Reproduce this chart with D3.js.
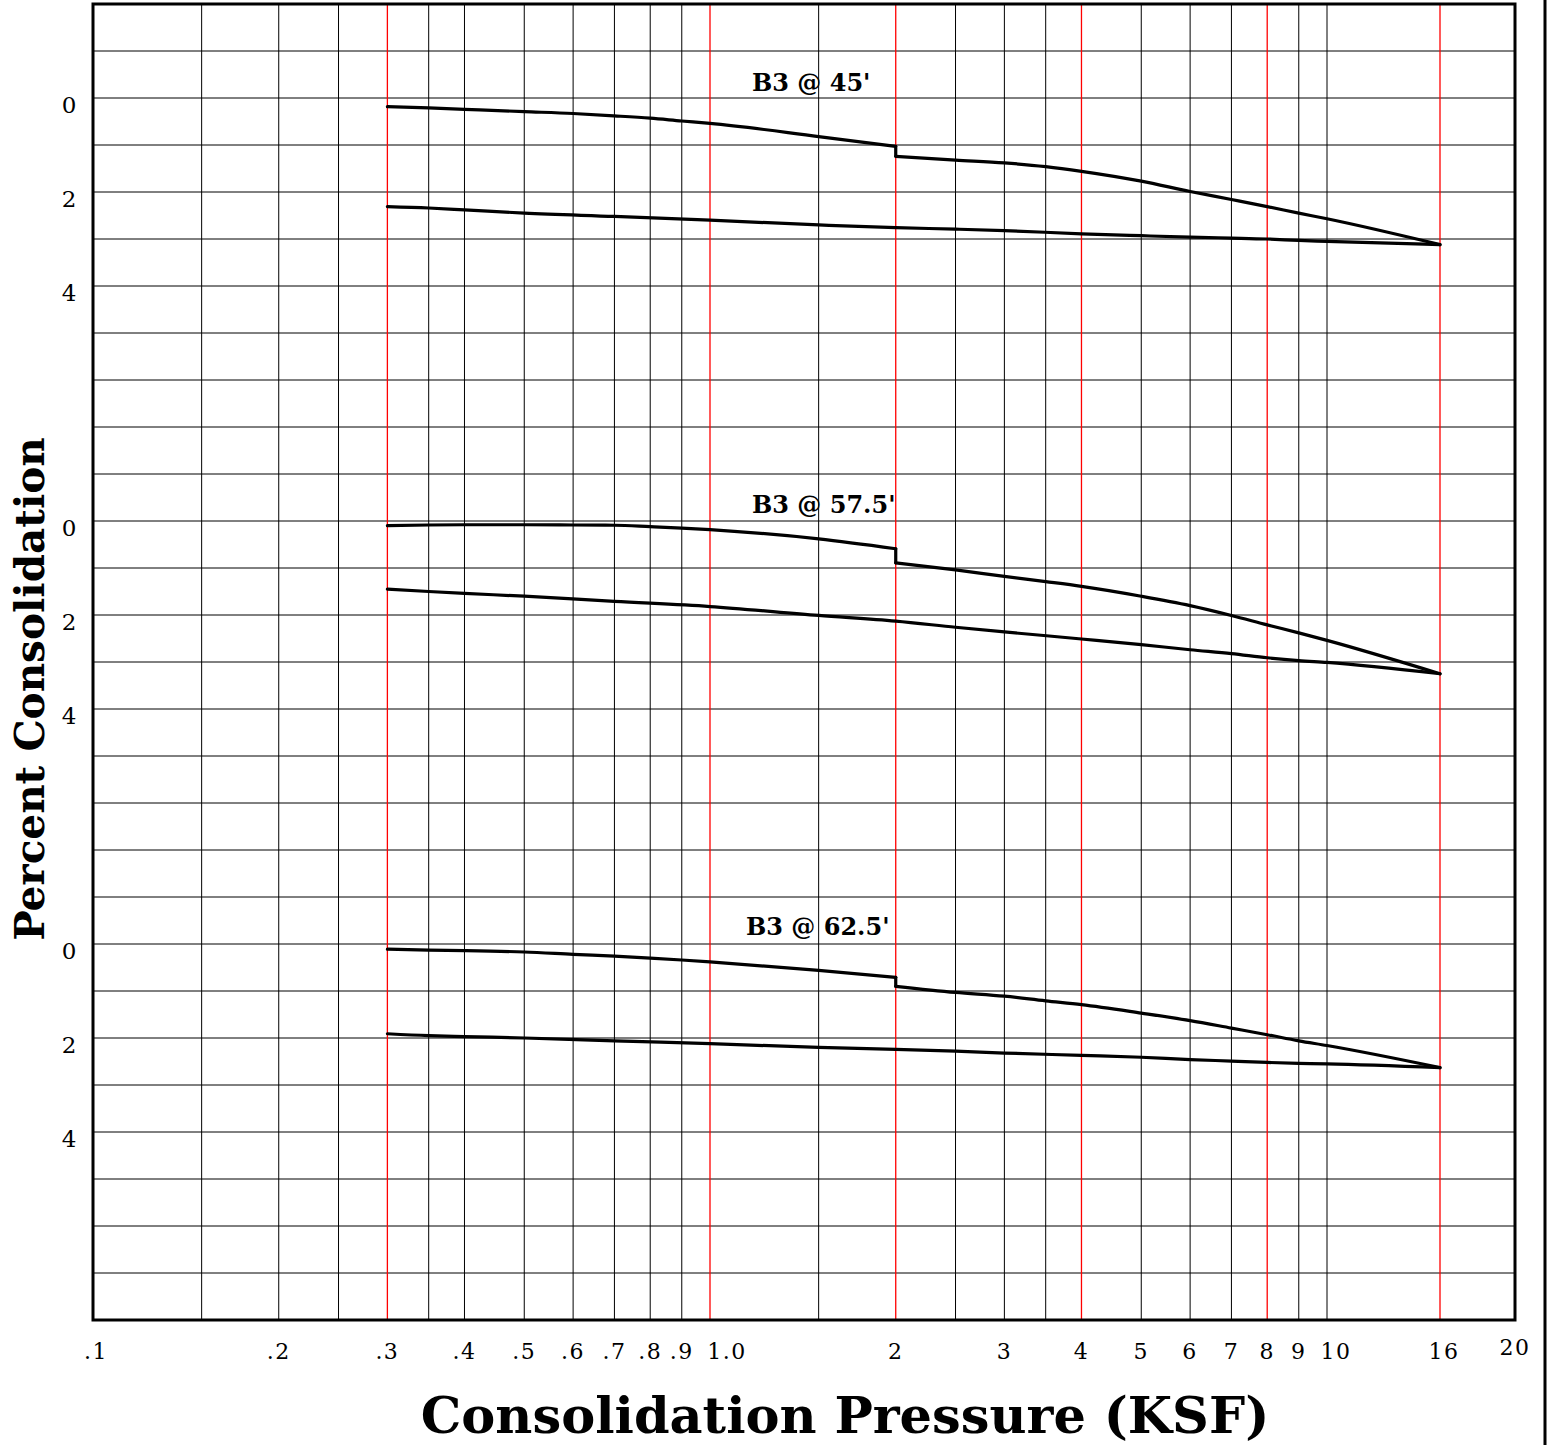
<!DOCTYPE html>
<html>
<head>
<meta charset="utf-8">
<title>Consolidation Test - B3</title>
<script src="https://cdn.jsdelivr.net/npm/d3@7"></script>
<style>
    body { margin: 0; background: #fff; }
    svg text { font-family: "DejaVu Serif", serif; fill: #000; }
</style>
</head>
<body>
<div id="chart-area"></div>
<script>
// pressures (KSF) at which the curves were read off the sheet
// loading: up to 2 ksf, then (after the inundation step at 2) on to 16
const loadPressureDry = [0.3, 0.35, 0.4, 0.5, 0.6, 0.7, 0.8, 0.9, 1.0, 1.5, 2];
const loadPressureWet = [2, 2.5, 3, 3.5, 4, 5, 6, 7, 8, 9, 10, 16];
const unloadPressure  = [16, 10, 9, 8, 7, 6, 5, 4, 3, 2.5, 2, 1.5, 1.0, 0.7, 0.5, 0.4, 0.35, 0.3];

// percent consolidation, read per sample
const b3at45Dry     = [0.185, 0.21, 0.24, 0.29, 0.33, 0.38, 0.43, 0.49, 0.54, 0.82, 1.03];
const b3at45Wet     = [1.24, 1.32, 1.38, 1.46, 1.56, 1.77, 1.99, 2.16, 2.31, 2.45, 2.57, 3.12];
const b3at45Unload  = [3.12, 3.05, 3.03, 3.00, 2.98, 2.96, 2.93, 2.89, 2.82, 2.79, 2.76, 2.70, 2.60, 2.52, 2.45, 2.38, 2.34, 2.31];

const b3at575Dry    = [0.10, 0.085, 0.08, 0.08, 0.085, 0.09, 0.12, 0.15, 0.185, 0.38, 0.59];
const b3at575Wet    = [0.89, 1.04, 1.18, 1.29, 1.39, 1.60, 1.80, 2.01, 2.21, 2.38, 2.54, 3.25];
const b3at575Unload = [3.25, 3.01, 2.97, 2.91, 2.82, 2.74, 2.63, 2.51, 2.36, 2.26, 2.13, 2.01, 1.82, 1.71, 1.60, 1.54, 1.50, 1.45];

const b3at625Dry    = [0.11, 0.13, 0.14, 0.17, 0.22, 0.26, 0.30, 0.34, 0.38, 0.56, 0.71];
const b3at625Wet    = [0.90, 1.03, 1.11, 1.21, 1.29, 1.47, 1.63, 1.79, 1.93, 2.06, 2.16, 2.63];
const b3at625Unload = [2.63, 2.55, 2.54, 2.52, 2.49, 2.46, 2.41, 2.37, 2.32, 2.28, 2.24, 2.20, 2.12, 2.06, 2.00, 1.97, 1.95, 1.91];

const panelLabels = ["B3 @ 45'", "B3 @ 57.5'", "B3 @ 62.5'"];

// axis ticks, grid lines and labels
const xTickValues = [0.1, 0.2, 0.3, 0.4, 0.5, 0.6, 0.7, 0.8, 0.9, 1, 2, 3, 4, 5, 6, 7, 8, 9, 10, 16, 20];
const xTickLabels = [".1", ".2", ".3", ".4", ".5", ".6", ".7", ".8", ".9", "1.0", "2", "3", "4", "5", "6", "7", "8", "9", "10", "16", "20"];
const xGridValues = [0.15, 0.2, 0.25, 0.35, 0.4, 0.5, 0.6, 0.7, 0.8, 0.9, 1.5, 2.5, 3, 3.5, 5, 6, 7, 9, 10];
const xRedValues  = [0.3, 1, 2, 4, 8, 16];
const yTickValues = [0, 2, 4];
const yTickLabels = ["0", "2", "4"];

;(function () {
    'use strict';

    const WIDTH = 1548, HEIGHT = 1445;
    const LEFT = 93, RIGHT = 1515, TOP = 4, BOTTOM = 1320;
    const ROWS = 28;                 // horizontal grid cells, 1% each
    const panelZero = [2, 11, 20];   // grid row holding 0% for each panel

    const samples = [
        {dry: b3at45Dry,  wet: b3at45Wet,  unload: b3at45Unload},
        {dry: b3at575Dry, wet: b3at575Wet, unload: b3at575Unload},
        {dry: b3at625Dry, wet: b3at625Wet, unload: b3at625Unload}
    ];

    // small nudges the sheet uses for crowded labels
    const labelNudge = {"1.0": 17, "10": 9, "16": 4, ".1": 3};
    const panelLabelX = [752, 752, 746];

    const svg = d3.select("#chart-area").append("svg")
        .attr("width", WIDTH)
        .attr("height", HEIGHT);

    // log pressure axis; the 16 line sits where the sheet drew it
    const x = d3.scaleLog()
        .domain([0.1, 10, 16, 20])
        .range([LEFT, 1327, 1440, RIGHT]);

    const row = d3.scaleLinear()
        .domain([0, ROWS])
        .range([TOP, BOTTOM]);

    const grid = svg.append("g").attr("class", "grid");

    // horizontal lines
    grid.selectAll("line.h")
        .data(d3.range(1, ROWS))
        .join("line")
        .attr("class", "h")
        .attr("x1", LEFT).attr("x2", RIGHT)
        .attr("y1", d => row(d)).attr("y2", d => row(d))
        .attr("stroke", "#000")
        .attr("stroke-width", 1);

    // vertical lines
    grid.selectAll("line.v")
        .data(xGridValues)
        .join("line")
        .attr("class", "v")
        .attr("x1", d => x(d)).attr("x2", d => x(d))
        .attr("y1", TOP).attr("y2", BOTTOM)
        .attr("stroke", "#000")
        .attr("stroke-width", 1);

    grid.selectAll("line.red")
        .data(xRedValues)
        .join("line")
        .attr("class", "red")
        .attr("x1", d => x(d)).attr("x2", d => x(d))
        .attr("y1", TOP).attr("y2", BOTTOM)
        .attr("stroke", "#f00")
        .attr("stroke-width", 1.3);

    // frame
    svg.append("rect")
        .attr("x", LEFT).attr("y", TOP)
        .attr("width", RIGHT - LEFT).attr("height", BOTTOM - TOP)
        .attr("fill", "none")
        .attr("stroke", "#000")
        .attr("stroke-width", 3);

    // bar on the far right edge of the sheet
    svg.append("line")
        .attr("x1", 1545).attr("x2", 1545)
        .attr("y1", 0).attr("y2", HEIGHT)
        .attr("stroke", "#000")
        .attr("stroke-width", 3);

    // curves
    samples.forEach((s, i) => {
        const zero = panelZero[i];

        const line = d3.line()
            .curve(d3.curveMonotoneX)
            .x(d => x(d.p))
            .y(d => row(zero + d.v));

        const dry = loadPressureDry.map((p, j) => ({p: p, v: s.dry[j]}));
        const wet = loadPressureWet.map((p, j) => ({p: p, v: s.wet[j]}));
        const unload = unloadPressure.map((p, j) => ({p: p, v: s.unload[j]})).reverse();
        const step = [dry[dry.length - 1], wet[0]];

        const curves = svg.append("g").attr("class", "sample");
        [dry, wet, unload].forEach(seg => {
            curves.append("path")
                .attr("fill", "none")
                .attr("stroke", "#000")
                .attr("stroke-width", 3.2)
                .attr("stroke-linecap", "round")
                .attr("d", line(seg));
        });
        curves.append("path")
            .attr("fill", "none")
            .attr("stroke", "#000")
            .attr("stroke-width", 3.2)
            .attr("stroke-linecap", "round")
            .attr("d", d3.line().x(d => x(d.p)).y(d => row(zero + d.v))(step));

        svg.append("text")
            .attr("x", panelLabelX[i])
            .attr("y", row(zero) - 7 - i)
            .style("font-size", "24px")
            .style("font-weight", "bold")
            .text(panelLabels[i]);

        svg.selectAll(null)
            .data(yTickValues)
            .join("text")
            .attr("x", 69)
            .attr("y", d => row(zero + d) + 15)
            .attr("text-anchor", "middle")
            .style("font-size", "23px")
            .text((d, j) => yTickLabels[j]);
    });

    // x tick labels
    svg.selectAll("text.xtick")
        .data(xTickValues)
        .join("text")
        .attr("class", "xtick")
        .attr("x", (d, i) => x(d) + (labelNudge[xTickLabels[i]] || 0))
        .attr("y", d => d === 20 ? 1355 : 1359)
        .attr("text-anchor", "middle")
        .style("font-size", "22px")
        .style("letter-spacing", "1.5px")
        .text((d, i) => xTickLabels[i]);

    // axis titles
    svg.append("text")
        .attr("x", 845)
        .attr("y", 1433)
        .attr("text-anchor", "middle")
        .style("font-size", "51px")
        .style("font-weight", "bold")
        .text("Consolidation Pressure (KSF)");

    svg.append("text")
        .attr("transform", "translate(44, 689) rotate(-90)")
        .attr("text-anchor", "middle")
        .style("font-size", "40.5px")
        .style("font-weight", "bold")
        .text("Percent Consolidation");
})();
</script>
</body>
</html>
